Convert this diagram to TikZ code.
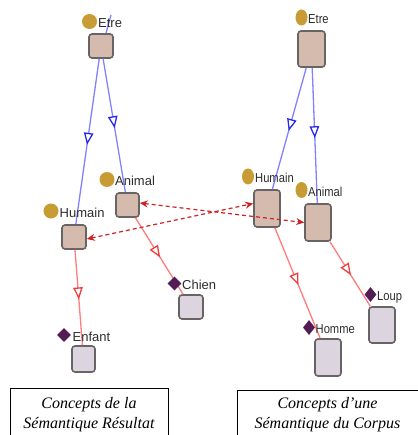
\documentclass[tikz,border=0pt]{standalone}
\usepackage{fontspec}
\setmainfont{Liberation Serif}
\newfontfamily\labfont{Liberation Sans}
\newfontfamily\labfontc[FakeStretch=0.86]{Liberation Sans}
\usetikzlibrary{shapes.geometric,arrows.meta,decorations.markings,calc}
\definecolor{conceptfill}{RGB}{213,186,174}
\definecolor{leaffill}{RGB}{220,212,222}
\definecolor{boxline}{RGB}{105,100,100}
\definecolor{classdot}{RGB}{200,156,52}
\definecolor{instdot}{RGB}{84,28,84}
\definecolor{isablue}{RGB}{130,130,255}
\definecolor{isabluehead}{RGB}{40,40,235}
\definecolor{isared}{RGB}{255,125,125}
\definecolor{isaredhead}{RGB}{240,60,60}
\definecolor{linkred}{RGB}{205,35,35}
\definecolor{labtext}{RGB}{45,45,45}
\tikzset{
  concept/.style={draw=boxline, line width=1.6pt, rounded corners=3pt, fill=conceptfill, inner sep=0pt},
  leaf/.style={draw=boxline, line width=1.6pt, rounded corners=3pt, fill=leaffill, inner sep=0pt},
  sq/.style={minimum width=24pt, minimum height=24pt},
  tall/.style={minimum width=26pt, minimum height=37pt},
  cdot/.style={circle, fill=classdot, minimum size=15pt, inner sep=0pt},
  cdotc/.style={ellipse, fill=classdot, minimum width=12pt, minimum height=16pt, inner sep=0pt},
  idot/.style={diamond, fill=instdot, minimum width=14pt, minimum height=14pt, inner sep=0pt},
  idotc/.style={diamond, fill=instdot, minimum width=12pt, minimum height=15pt, inner sep=0pt},
  lab/.style={anchor=base west, inner sep=0pt, text=labtext, font=\labfont\fontsize{13}{13}\selectfont},
  labc/.style={anchor=base west, inner sep=0pt, text=labtext, font=\labfontc\fontsize{13}{13}\selectfont},
  isab/.style={draw=isablue, line width=1.3pt, postaction={decorate},
    decoration={markings, mark=at position 0.52 with {\arrow[isabluehead, line width=1.3pt]{Triangle[length=12pt, width=9.5pt, fill=white]}}}},
  isar/.style={draw=isared, line width=1.3pt, postaction={decorate},
    decoration={markings, mark=at position 0.52 with {\arrow[isaredhead, line width=1.3pt]{Triangle[length=12pt, width=9.5pt, fill=white]}}}},
  link/.style={draw=linkred, line width=1.2pt, dash pattern=on 4pt off 3pt,
    {Stealth[length=8pt, width=7pt]}-{Stealth[length=8pt, width=7pt]}},
  caption/.style={draw=black, line width=0.8pt, align=center, inner sep=0pt,
    font=\itshape\fontsize{16}{20}\selectfont}
}
\begin{document}
\begin{tikzpicture}[x=1pt, y=-1pt]
\useasboundingbox[fill=white] (0,0) rectangle (417,435);
% concept boxes, left
\node[concept, sq] (e1) at (101,46) {};
\node[concept, minimum width=23pt, minimum height=24pt] (a1) at (127.5,205) {};
\node[concept, sq] (h1) at (74,237) {};
\node[leaf, sq] (c1) at (191,307) {};
\node[leaf, minimum width=23pt, minimum height=26pt] (en1) at (83.5,359) {};
% concept boxes, right
\node[concept, minimum width=27pt, minimum height=36pt] (e2) at (311.5,49) {};
\node[concept, tall] (h2) at (267,208.5) {};
\node[concept, tall] (a2) at (318,222.5) {};
\node[leaf, minimum width=26pt, minimum height=36pt] (l2) at (382,325) {};
\node[leaf, tall] (ho2) at (328,357.5) {};
% edges
\coordinate (stray) at (111,15);
\draw[draw=isablue, line width=1.3pt] (stray) -- ($(e1.north)+(5,0)$);
\draw[isab] (e1) -- (h1);
\draw[isab] (e1) -- (a1);
\draw[isar] (a1) -- (c1);
\draw[isar] (h1) -- (en1);
\draw[isab] (e2) -- (h2);
\draw[isab] (e2) -- (a2);
\draw[isar] (h2) -- (ho2);
\draw[isar] (a2) -- (l2);
\draw[link] ($(a1.east)+(0,-2)$) -- (a2.west);
\draw[link] ($(h1.east)+(0,2)$) -- ($(h2.west)+(0,-5)$);
% markers
\node[cdot] (e1d) at (89.5,21.5) {};
\node[cdot] (a1d) at (107,179.5) {};
\node[cdot] (h1d) at (51,211) {};
\node[idot] (c1d) at (174.5,283.5) {};
\node[idot] (en1d) at (64,335) {};
\node[cdotc] (e2d) at (301.5,17.5) {};
\node[cdotc] (h2d) at (248,176.5) {};
\node[cdotc] (a2d) at (301.5,190) {};
\node[idotc] (l2d) at (370.5,294.5) {};
\node[idotc] (ho2d) at (309,327.5) {};
% labels
\node[lab] (e1t) at (98,27.5) {Etre};
\node[lab] (a1t) at (115,185.5) {Animal};
\node[lab] (h1t) at (59.5,217) {Humain};
\node[lab] (c1t) at (182,289.5) {Chien};
\node[lab] (en1t) at (72.5,341) {Enfant};
\node[labc] (e2t) at (308,24) {Etre};
\node[labc] (h2t) at (255,182.5) {Humain};
\node[labc] (a2t) at (308,196.5) {Animal};
\node[labc] (l2t) at (377,300) {Loup};
\node[labc] (ho2t) at (315.5,333.5) {Homme};
% captions
\node[caption, minimum width=158pt, minimum height=53pt] (capl) at (89,414.5) {Concepts de la\\Sémantique Résultat};
\node[caption, minimum width=181pt, minimum height=49pt] (capr) at (327.5,414.5) {Concepts d’une\\Sémantique du Corpus};
\end{tikzpicture}
\end{document}
